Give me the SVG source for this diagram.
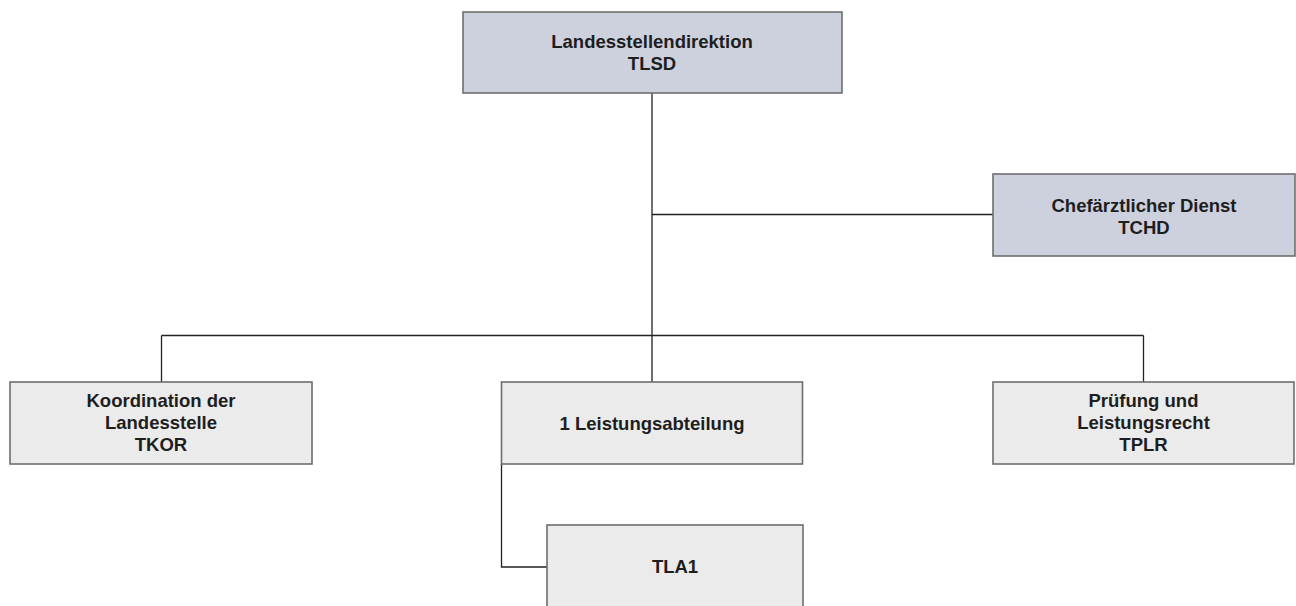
<svg xmlns="http://www.w3.org/2000/svg" width="1296" height="606" viewBox="0 0 1296 606">
<style>
.box{stroke:#6e6e6e;stroke-width:1.6}
.top{fill:#cdd0dd}
.sub{fill:#ebebeb}
.t{font-family:"Liberation Sans",Arial,sans-serif;font-weight:bold;font-size:18.5px;fill:#1e1e1e;text-anchor:middle}
.c{fill:none;stroke:#222;stroke-width:1.3}
</style>
<rect width="1296" height="606" fill="#fff"/>
<g id="connectors">
<path class="c" d="M652,93 V382"/>
<path class="c" d="M652,214.5 H993"/>
<path class="c" d="M161.5,335.5 H1143.5"/>
<path class="c" d="M161.5,335.5 V382"/>
<path class="c" d="M1143.5,335.5 V382"/>
<path class="c" d="M501.5,464 V567 H547"/>
</g>
<g id="TLSD">
<rect class="box top" x="463" y="12" width="379" height="81"/>
<text class="t" x="652" y="48.3">Landesstellendirektion</text>
<text class="t" x="652" y="69.5">TLSD</text>
</g>
<g id="TCHD">
<rect class="box top" x="993" y="174" width="302" height="82"/>
<text class="t" x="1144" y="211.5">Chefärztlicher Dienst</text>
<text class="t" x="1144" y="233.7">TCHD</text>
</g>
<g id="TKOR">
<rect class="box sub" x="10" y="382" width="302" height="82"/>
<text class="t" x="161" y="406.8">Koordination der</text>
<text class="t" x="161" y="428.9">Landesstelle</text>
<text class="t" x="161" y="451">TKOR</text>
</g>
<g id="Leistungsabteilung">
<rect class="box sub" x="501.5" y="382" width="301" height="82"/>
<text class="t" x="652" y="429.5">1 Leistungsabteilung</text>
</g>
<g id="TPLR">
<rect class="box sub" x="993" y="382" width="301" height="82"/>
<text class="t" x="1143.5" y="406.8">Prüfung und</text>
<text class="t" x="1143.5" y="428.9">Leistungsrecht</text>
<text class="t" x="1143.5" y="451">TPLR</text>
</g>
<g id="TLA1">
<rect class="box sub" x="547" y="525" width="256" height="90"/>
<text class="t" x="675" y="572.7">TLA1</text>
</g>
</svg>
